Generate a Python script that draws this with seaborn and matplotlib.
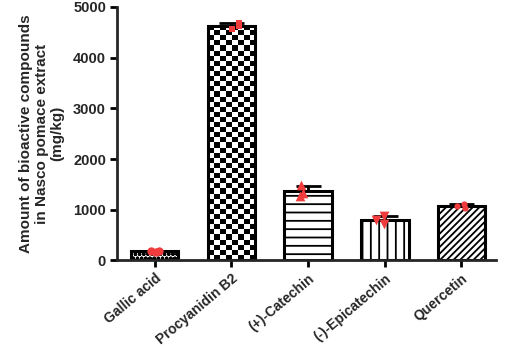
import numpy as np
import pandas as pd
import matplotlib
matplotlib.use('Agg')
import matplotlib.pyplot as plt
import seaborn as sns

# compounds and replicate values (mg/kg)
compounds = ['Gallic acid', 'Procyanidin B2', '(+)-Catechin', '(-)-Epicatechin', 'Quercetin']
gallic = [160, 175, 190]
procyanidin = [4560, 4620, 4690]
catechin = [1480, 1330, 1270]
epicatechin = [870, 790, 710]
quercetin = [1110, 1080, 1040]
yticks = [0, 1000, 2000, 3000, 4000, 5000]

reps = [gallic, procyanidin, catechin, epicatechin, quercetin]
df = pd.DataFrame({
    'compound': np.repeat(compounds, 3),
    'value': np.concatenate(reps),
})
means = df.groupby('compound', sort=False)['value'].mean().reindex(compounds)
sds = df.groupby('compound', sort=False)['value'].std().reindex(compounds)

sns.set_style('ticks')
plt.rcParams['font.family'] = ['Liberation Sans', 'DejaVu Sans']
plt.rcParams['hatch.linewidth'] = 1.3
plt.rcParams['hatch.color'] = 'black'

fig = plt.figure(figsize=(5.05, 3.49), dpi=100)
ax = fig.add_axes([0.232, 0.254, 0.75, 0.726])

sns.barplot(data=df, x='compound', y='value', order=compounds, errorbar=None,
            color='white', edgecolor='black', linewidth=2.2, width=0.62, ax=ax)

hatches = ['oooo', None, '--', '||', '/////']
for patch, h in zip(ax.patches, hatches):
    if h:
        patch.set_hatch(h)
    patch.set_zorder(2)

# checkerboard fill for procyanidin B2
bar = ax.patches[1]
x0, y0 = bar.get_x(), bar.get_y()
x1, y1 = x0 + bar.get_width(), y0 + bar.get_height()
ncols, nrows = 8, 46
checker = np.indices((nrows, ncols)).sum(axis=0) % 2
im = ax.imshow(checker, extent=[x0, x1, y0, y1], aspect='auto', cmap='gray',
               interpolation='nearest', zorder=1.5)
im.set_clip_path(bar)
bar.set_facecolor('none')

# SD, upper side only
pos = np.arange(len(compounds))
ax.errorbar(pos, means.values, yerr=[np.zeros(len(pos)), sds.values], fmt='none',
            ecolor='black', elinewidth=2, capsize=9, capthick=2, zorder=3)

np.random.seed(3)
markers = ['o', 's', '^', 'v', 'o']
sizes = [6, 5, 7, 7, 4.5]
for c, m, s in zip(compounds, markers, sizes):
    sns.stripplot(data=df[df['compound'] == c], x='compound', y='value', order=compounds,
                  marker=m, size=s, color='#f03c3c', linewidth=0, jitter=0.12,
                  zorder=4, ax=ax)

ax.set_xlim(-0.49, 4.45)
ax.set_ylim(0, 5000)
ax.set_yticks(yticks)
ax.set_yticklabels([str(t) for t in yticks], fontsize=10.5, fontweight='bold')
ax.set_xticks(pos)
ax.set_xticklabels(compounds, rotation=40, ha='right', rotation_mode='anchor',
                   fontsize=10, fontweight='bold')
ax.set_xlabel('')
ax.set_ylabel('Amount of bioactive compounds\nin Nasco pomace extract\n(mg/kg)',
              fontsize=11, fontweight='bold', labelpad=6, linespacing=1.15)
sns.despine(ax=ax)
for sp in ['left', 'bottom']:
    ax.spines[sp].set_linewidth(2)
ax.tick_params(width=2, length=5, color='black', pad=3)

fig.savefig('out.png', dpi=100)
